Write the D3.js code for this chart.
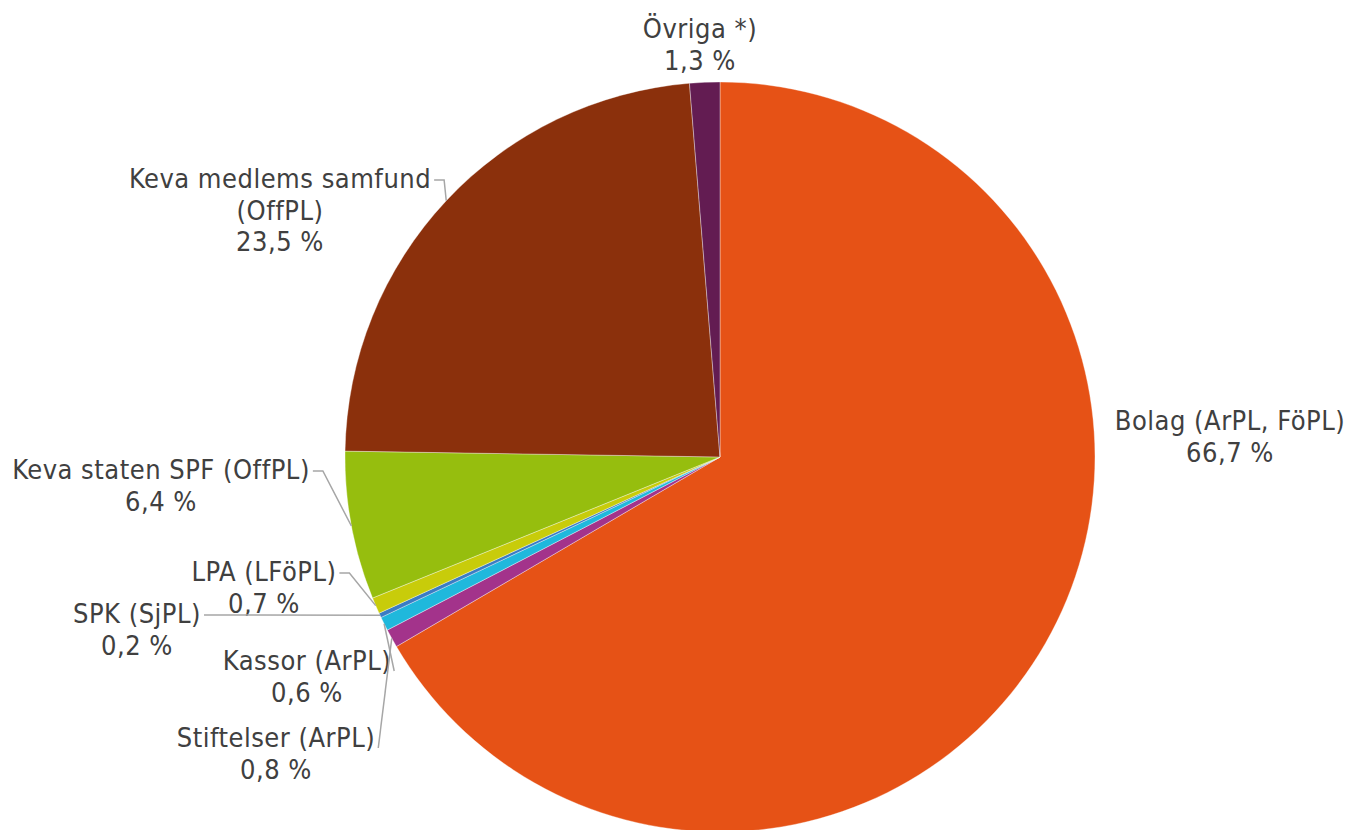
<!DOCTYPE html>
<html>
<head>
<meta charset="utf-8">
<script src="https://cdn.jsdelivr.net/npm/d3@7"></script>
<style>
  body { margin: 0; background: #fff; }
  text { font-family: "DejaVu Sans Condensed", "DejaVu Sans", sans-serif; font-size: 27px; letter-spacing: 0.5px; fill: #404040; }
</style>
</head>
<body>
<script>
// data
var names = ["Bolag (ArPL, FöPL)", "Stiftelser (ArPL)", "Kassor (ArPL)", "SPK (SjPL)",
             "LPA (LFöPL)", "Keva staten SPF (OffPL)", "Keva medlems samfund (OffPL)", "Övriga *)"];
var values = [66.7, 0.8, 0.6, 0.2, 0.7, 6.4, 23.5, 1.3];
var colors = ["#e65216", "#a3338b", "#1fb8dc", "#3a7cc4", "#c8cc0a", "#96be0e", "#8b300c", "#631c52"];

var width = 1350, height = 830;
var cx = 720, cy = 457, r = 375;

// label layout: centre x, first baseline y, text lines, leader kind
var labelLayout = [
  { x: 1230, y: 430, lines: ["Bolag (ArPL, FöPL)"], leader: null },
  { x: 276, y: 747, lines: ["Stiftelser (ArPL)"], leader: "up" },
  { x: 307, y: 670, lines: ["Kassor (ArPL)"], leader: "up" },
  { x: 137, y: 623, lines: ["SPK (SjPL)"], leader: "straight" },
  { x: 264, y: 581, lines: ["LPA (LFöPL)"], leader: "elbow" },
  { x: 161, y: 479, lines: ["Keva staten SPF (OffPL)"], leader: "elbow" },
  { x: 280, y: 188, lines: ["Keva medlems samfund", "(OffPL)"], leader: "elbow" },
  { x: 700, y: 38, lines: ["Övriga *)"], leader: null }
];
var lineH = 31.5;

var svg = d3.select("body").append("svg")
    .attr("width", width)
    .attr("height", height);

var data = values.map(function(v, i) { return { name: names[i], value: v, i: i }; });

var pie = d3.pie()
    .sort(null)
    .value(function(d) { return d.value; });

var arc = d3.arc().innerRadius(0).outerRadius(r);

var arcs = pie(data);

var g = svg.append("g").attr("transform", "translate(" + cx + "," + cy + ")");

g.selectAll("path.slice")
  .data(arcs)
  .enter().append("path")
  .attr("class", "slice")
  .attr("d", arc)
  .attr("fill", function(d) { return colors[d.data.i]; })
  .attr("stroke", "#ffffff")
  .attr("stroke-opacity", 0.6)
  .attr("stroke-width", 0.6);

// labels
var labels = svg.append("g");
arcs.forEach(function(a) {
  var L = labelLayout[a.data.i];
  var t = labels.append("text").attr("text-anchor", "middle");
  var allLines = L.lines.concat([d3.format(".1f")(a.data.value).replace(".", ",") + " %"]);
  allLines.forEach(function(s, k) {
    t.append("tspan").attr("x", L.x).attr("y", L.y + k * lineH).text(s);
  });
  if (!L.leader) return;

  // end point on the rim, at the middle angle of the slice
  var mid = (a.startAngle + a.endAngle) / 2;
  var ex = cx + r * Math.sin(mid), ey = cy - r * Math.cos(mid);
  var firstW = t.select("tspan").node().getComputedTextLength();
  var right = L.x + firstW / 2;
  var pts;
  if (L.leader === "elbow") {
    pts = [[right + 3, L.y - 8], [right + 13, L.y - 8], [ex, ey]];
  } else if (L.leader === "straight") {
    pts = [[right + 3, L.y - 8], [ex, ey]];
  } else {
    pts = [[right + 3, L.y + 1], [ex, ey]];
  }
  svg.append("path")
    .attr("d", d3.line()(pts))
    .attr("fill", "none")
    .attr("stroke", "#a6a6a6")
    .attr("stroke-width", 1.5);
});
</script>
</body>
</html>
